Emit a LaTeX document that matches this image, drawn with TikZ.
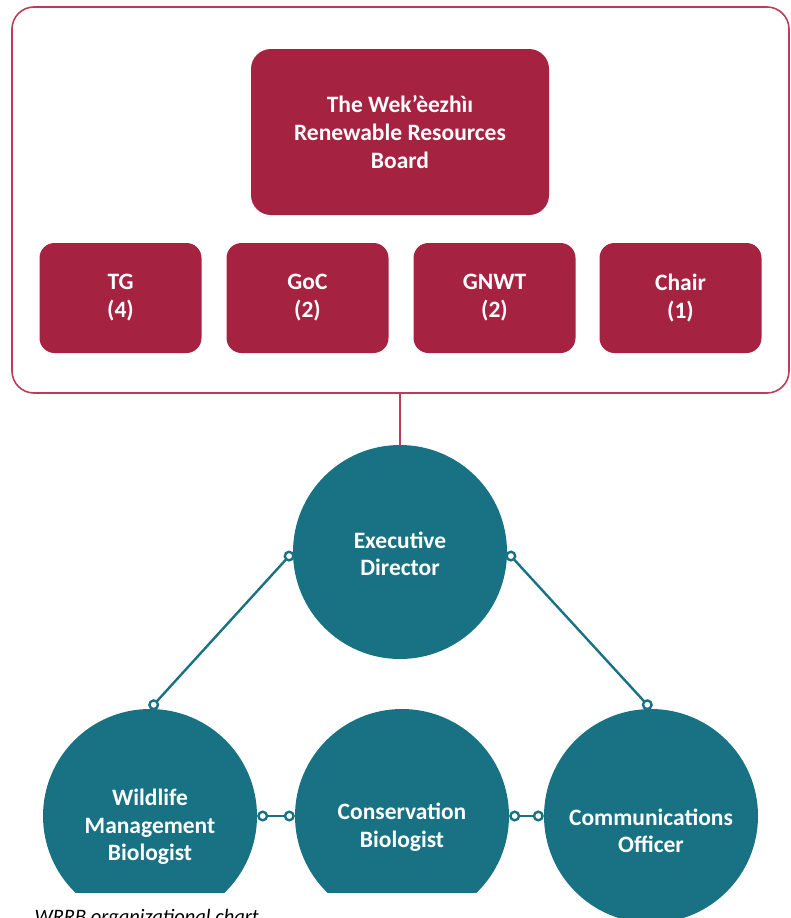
\documentclass[tikz,border=0pt]{standalone}
\usepackage{fontspec}
\setmainfont{Carlito}
\usetikzlibrary{arrows.meta,positioning}
\definecolor{wrrbred}{RGB}{165,34,65}
\definecolor{wrrbline}{RGB}{190,60,88}
\definecolor{wrrbteal}{RGB}{25,114,132}

\begin{document}
\begin{tikzpicture}[x=1pt, y=-1pt,
    redbox/.style={fill=wrrbred, text=white, align=center, inner sep=0pt,
      font=\bfseries\fontsize{23.5}{28}\selectfont},
    memberbox/.style={redbox, rounded corners=15pt, minimum width=162pt, minimum height=110pt},
    role/.style={circle, fill=wrrbteal, minimum size=214pt, inner sep=0pt},
    roletext/.style={text=white, align=center, font=\bfseries\fontsize{23.5}{27.5}\selectfont},
    link/.style={draw=wrrbteal, line width=2.4pt,
      arrows={Circle[open,fill=white,length=11pt,width=11pt]-Circle[open,fill=white,length=11pt,width=11pt]}}]
    \useasboundingbox (0,0) rectangle (790,918);

    % the board
    \node[draw=wrrbline, line width=1.6pt, rounded corners=22pt,
      minimum width=777pt, minimum height=386pt] (frame) at (400.5,200) {};
    \node[redbox, rounded corners=20pt, minimum width=298pt, minimum height=166pt]
      (board) at (400,132) {The Wek’èezhìı\\Renewable Resources\\Board};

    \node[memberbox] (tg) at (120.5,298) {TG\\(4)};
    \node[memberbox] (goc) at (307.5,298) {GoC\\(2)};
    \node[memberbox] (gnwt) at (494.5,298) {GNWT\\(2)};
    \node[memberbox] (chair) at (680.5,298) {Chair\\(1)};

    % staff
    \node[role] (ed) at (400,552) {};
    \node[role] (wm) at (150,816) {};
    \node[role] (cb) at (402,816) {};
    \node[role] (co) at (651,816) {};

    \draw[wrrbline, line width=1.6pt] (frame.south -| ed.north) -- (ed.north);

    \draw[link] (ed.west) -- (wm.north);
    \draw[link] (ed.east) -- (co.north);
    \draw[link] (wm.east) -- (cb.west);
    \draw[link] (cb.east) -- (co.west);

    \node[roletext] (edtext) at (400,554) {Executive\\Director};
    \node[roletext] (wmtext) at (150,827) {Wildlife\\Management\\Biologist};
    \node[roletext] (cbtext) at (402,827) {Conservation\\Biologist};
    \node[roletext] (cotext) at (651,831) {Communications\\Officer};

    % caption strip
    \fill[white] (0,893) rectangle (520,930);
    \node[anchor=base west, font=\itshape\fontsize{20.5}{24}\selectfont] (caption) at (31,923)
      {WRRB organizational chart};
\end{tikzpicture}
\end{document}
